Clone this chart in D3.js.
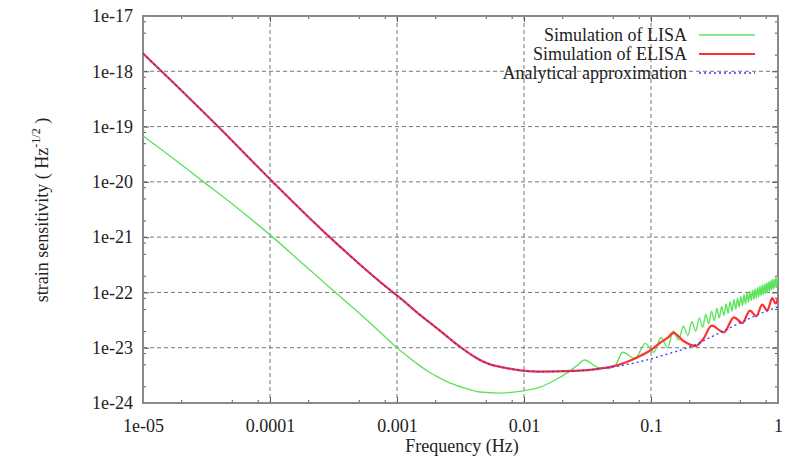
<!DOCTYPE html>
<html><head><meta charset="utf-8">
<script src="https://cdn.jsdelivr.net/npm/d3@7"></script>
<style>
body{margin:0;background:#fff;}
svg{display:block;}
text{font-family:"Liberation Serif","Times New Roman","DejaVu Serif",serif;fill:#222;}
</style></head>
<body><svg id="chart" width="788" height="465"></svg>
<script>
// ---- data ----
const xTickValues = [1e-5, 1e-4, 1e-3, 1e-2, 1e-1, 1];
const xTickLabels = ["1e-05", "0.0001", "0.001", "0.01", "0.1", "1"];
const yTickValues = [1e-17, 1e-18, 1e-19, 1e-20, 1e-21, 1e-22, 1e-23, 1e-24];
const yTickLabels = ["1e-17", "1e-18", "1e-19", "1e-20", "1e-21", "1e-22", "1e-23", "1e-24"];
const minorMultipliers = [2, 5, 8];
const seriesNames = ["Simulation of LISA", "Simulation of ELISA", "Analytical approximation"];

const lisaFreq = [1e-5, 1.5e-5, 2.2e-5, 3.0e-5, 5.5e-5, 1.05e-4, 1.9e-4, 3.4e-4, 6e-4, 1.0e-3, 1.25e-3, 1.5e-3, 1.8e-3,
  2.2e-3, 2.7e-3, 3.2e-3, 4.5e-3, 6.5e-3, 9.3e-3,
  0.0135, 0.017, 0.022, 0.026, 0.03, 0.038, 0.045, 0.052, 0.06, 0.075, 0.09, 0.105, 0.12, 0.135, 0.15, 0.165, 0.18, 0.195,
  0.21, 0.225, 0.24, 0.255, 0.27, 0.285, 0.30, 0.315, 0.33, 0.345, 0.36, 0.375, 0.39, 0.405, 0.42, 0.435, 0.45,
  0.465, 0.48, 0.495, 0.51, 0.525, 0.54, 0.555, 0.57, 0.585, 0.60, 0.615, 0.63, 0.645, 0.66, 0.675, 0.69, 0.705,
  0.72, 0.735, 0.75, 0.765, 0.78, 0.795, 0.81, 0.825, 0.84, 0.855, 0.87, 0.885, 0.90, 0.915, 0.93, 0.945, 0.96,
  0.975, 0.99, 1.0];
const lisaStrain = [6.8e-20, 3.4e-20, 1.74e-20, 1.0e-20, 3.4e-21, 1.0e-21, 3.0e-22, 9.3e-23, 2.95e-23, 1.0e-23, 6.6e-24, 4.8e-24, 3.6e-24,
  2.8e-24, 2.24e-24, 1.95e-24, 1.58e-24, 1.51e-24, 1.62e-24,
  1.95e-24, 2.5e-24, 3.55e-24, 4.7e-24, 6.0e-24, 4.4e-24, 4.2e-24, 4.7e-24, 8.3e-24, 6.3e-24, 1.2e-23, 8.3e-24, 1.51e-23, 1.0e-23, 2.0e-23, 1.38e-23, 2.45e-23, 1.66e-23,
  2.95e-23, 2.0e-23, 3.47e-23, 2.34e-23, 3.98e-23, 2.7e-23, 4.57e-23, 3.1e-23, 5.13e-23, 3.47e-23, 5.6e-23, 3.8e-23, 6.2e-23, 4.2e-23, 6.8e-23, 4.57e-23, 7.4e-23,
  5.0e-23, 7.9e-23, 5.4e-23, 8.5e-23, 5.75e-23, 9.1e-23, 6.2e-23, 9.8e-23, 6.6e-23, 1.05e-22, 7.1e-23, 1.1e-22, 7.4e-23, 1.15e-22, 7.8e-23, 1.23e-22, 8.3e-23,
  1.29e-22, 8.7e-23, 1.35e-22, 9.1e-23, 1.41e-22, 9.5e-23, 1.48e-22, 1.0e-22, 1.55e-22, 1.05e-22, 1.62e-22, 1.1e-22, 1.7e-22, 1.15e-22, 1.74e-22, 1.2e-22, 1.82e-22,
  1.23e-22, 1.9e-22, 1.58e-22];

const elisaFreq = [1e-5, 1.4e-5, 3.9e-5, 1.05e-4, 2.95e-4, 9.3e-4, 1.06e-3, 1.5e-3, 2.2e-3, 3.0e-3, 3.7e-3, 4.5e-3, 5.4e-3, 6.5e-3, 9.3e-3,
  0.0135, 0.025, 0.04, 0.05, 0.063, 0.079, 0.1, 0.12, 0.135, 0.15, 0.18, 0.225, 0.26, 0.30, 0.375, 0.45, 0.525,
  0.60, 0.675, 0.75, 0.825, 0.90, 0.96, 1.0];
const elisaStrain = [2.1e-18, 1.0e-18, 1.0e-19, 1.0e-20, 1.0e-21, 1.0e-22, 7.9e-23, 4.0e-23, 2.0e-23, 1.12e-23, 7.9e-24, 6.0e-24, 5.0e-24, 4.5e-24, 3.9e-24,
  3.7e-24, 3.8e-24, 4.2e-24, 4.6e-24, 5.4e-24, 6.8e-24, 9.1e-24, 1.26e-23, 1.5e-23, 1.86e-23, 1.32e-23, 1.07e-23, 1.48e-23, 2.5e-23, 1.9e-23, 3.55e-23, 2.8e-23,
  4.7e-23, 3.7e-23, 6.0e-23, 4.7e-23, 7.9e-23, 6.3e-23, 7.9e-23];

const approxFreq = [1e-5, 1.4e-5, 3.9e-5, 1.05e-4, 2.95e-4, 9.3e-4, 1.06e-3, 1.5e-3, 2.2e-3, 3.0e-3, 3.7e-3, 4.5e-3, 5.4e-3, 6.5e-3, 9.3e-3,
  0.0135, 0.025, 0.04, 0.05, 0.063, 0.079, 0.1, 0.14, 0.2, 0.3, 0.5, 0.7, 1.0];
const approxStrain = [2.1e-18, 1.0e-18, 1.0e-19, 1.0e-20, 1.0e-21, 1.0e-22, 7.9e-23, 4.0e-23, 2.0e-23, 1.12e-23, 7.9e-24, 6.0e-24, 5.0e-24, 4.5e-24, 3.9e-24,
  3.7e-24, 3.8e-24, 4.2e-24, 4.5e-24, 4.9e-24, 5.5e-24, 6.3e-24, 7.9e-24, 1.02e-23, 1.58e-23, 2.8e-23, 4.0e-23, 5.5e-23];

// ---- layout ----
const svg = d3.select("#chart");
const L = 143, R = 778, T = 16, B = 403;
const x = d3.scaleLog().domain([1e-5, 1]).range([L, R]);
const y = d3.scaleLog().domain([1e-24, 1e-17]).range([B, T]);
const FONT = "Liberation Serif, Times New Roman, serif";

// grid
const grid = svg.append("g");
xTickValues.slice(1, -1).forEach(v => grid.append("line")
  .attr("x1", x(v)).attr("x2", x(v)).attr("y1", T).attr("y2", B)
  .attr("stroke", "#777").attr("stroke-width", 1).attr("stroke-dasharray", "4,3"));
yTickValues.slice(1, -1).forEach(v => grid.append("line")
  .attr("x1", L).attr("x2", R).attr("y1", y(v)).attr("y2", y(v))
  .attr("stroke", "#777").attr("stroke-width", 1).attr("stroke-dasharray", "4,3"));

// minor tick values
const xMinor = [], yMinor = [];
xTickValues.slice(0, -1).forEach(v => minorMultipliers.forEach(m => xMinor.push(v * m)));
yTickValues.slice(1).forEach(v => minorMultipliers.forEach(m => yMinor.push(v * m)));

// axes (ticks inward, mirrored)
const tickColor = "#555";
function styleAxis(g) {
  g.select(".domain").remove();
  g.selectAll("line").attr("stroke", tickColor).attr("stroke-width", 1);
}
const fmtX = v => xTickLabels[xTickValues.findIndex(t => Math.abs(Math.log10(t) - Math.log10(v)) < 1e-6)];
const fmtY = v => yTickLabels[yTickValues.findIndex(t => Math.abs(Math.log10(t) - Math.log10(v)) < 1e-6)];

svg.append("g").attr("transform", `translate(0,${B})`)
  .call(d3.axisBottom(x).tickValues(xTickValues).tickFormat(fmtX).tickSizeInner(-6).tickPadding(16))
  .call(styleAxis)
  .call(g => g.selectAll("text").attr("font-size", 18).attr("fill", "#222").attr("font-family", FONT));
svg.append("g").attr("transform", `translate(0,${B})`)
  .call(d3.axisBottom(x).tickValues(xMinor).tickFormat("").tickSizeInner(-3)).call(styleAxis);
svg.append("g").attr("transform", `translate(0,${T})`)
  .call(d3.axisTop(x).tickValues(xTickValues).tickFormat("").tickSizeInner(-6)).call(styleAxis);
svg.append("g").attr("transform", `translate(0,${T})`)
  .call(d3.axisTop(x).tickValues(xMinor).tickFormat("").tickSizeInner(-3)).call(styleAxis);

svg.append("g").attr("transform", `translate(${L},0)`)
  .call(d3.axisLeft(y).tickValues(yTickValues).tickFormat(fmtY).tickSizeInner(-6).tickPadding(10))
  .call(styleAxis)
  .call(g => g.selectAll("text").attr("font-size", 18).attr("fill", "#222").attr("font-family", FONT));
svg.append("g").attr("transform", `translate(${L},0)`)
  .call(d3.axisLeft(y).tickValues(yMinor).tickFormat("").tickSizeInner(-3)).call(styleAxis);
svg.append("g").attr("transform", `translate(${R},0)`)
  .call(d3.axisRight(y).tickValues(yTickValues).tickFormat("").tickSizeInner(-6)).call(styleAxis);
svg.append("g").attr("transform", `translate(${R},0)`)
  .call(d3.axisRight(y).tickValues(yMinor).tickFormat("").tickSizeInner(-3)).call(styleAxis);

// frame
svg.append("rect").attr("x", L).attr("y", T).attr("width", R - L).attr("height", B - T)
  .attr("fill", "none").attr("stroke", "#8a8a8a").attr("stroke-width", 2);

// series
const line = d3.line().x(d => x(d[0])).y(d => y(d[1])).curve(d3.curveMonotoneX);
svg.append("clipPath").attr("id", "clip").append("rect")
  .attr("x", L).attr("y", T).attr("width", R - L).attr("height", B - T);
const plot = svg.append("g").attr("clip-path", "url(#clip)");
const series = [
  {name: seriesNames[0], data: d3.zip(lisaFreq, lisaStrain), color: "#5fe35f", width: 1.4, dash: null},
  {name: seriesNames[1], data: d3.zip(elisaFreq, elisaStrain), color: "#ff3030", width: 2.2, dash: null},
  {name: seriesNames[2], data: d3.zip(approxFreq, approxStrain), color: "#3838ff", width: 1.3, dash: "2,3"}
];
series.forEach(s => plot.append("path").attr("d", line(s.data)).attr("fill", "none")
  .attr("stroke", s.color).attr("stroke-width", s.width).attr("stroke-dasharray", s.dash)
  .attr("stroke-linejoin", "round"));

// legend
const leg = svg.append("g");
series.forEach((s, i) => {
  const cy = 35 + i * 19;
  leg.append("text").attr("x", 687).attr("y", cy).attr("dy", "0.33em")
    .attr("text-anchor", "end").attr("font-size", 18).text(s.name);
  leg.append("line").attr("x1", 699).attr("x2", 755).attr("y1", cy).attr("y2", cy)
    .attr("stroke", s.color).attr("stroke-width", s.width).attr("stroke-dasharray", s.dash);
});

// axis titles
svg.append("text").attr("x", 462).attr("y", 452).attr("text-anchor", "middle")
  .attr("font-size", 18).text("Frequency (Hz)");
const yt = svg.append("text").attr("transform", "translate(48,210) rotate(-90)")
  .attr("text-anchor", "middle").attr("font-size", 18);
yt.append("tspan").text("strain sensitivity ( Hz");
yt.append("tspan").attr("font-size", 12).attr("dy", -8).text("-1/2");
yt.append("tspan").attr("dy", 8).text(" )");
</script></body></html>
